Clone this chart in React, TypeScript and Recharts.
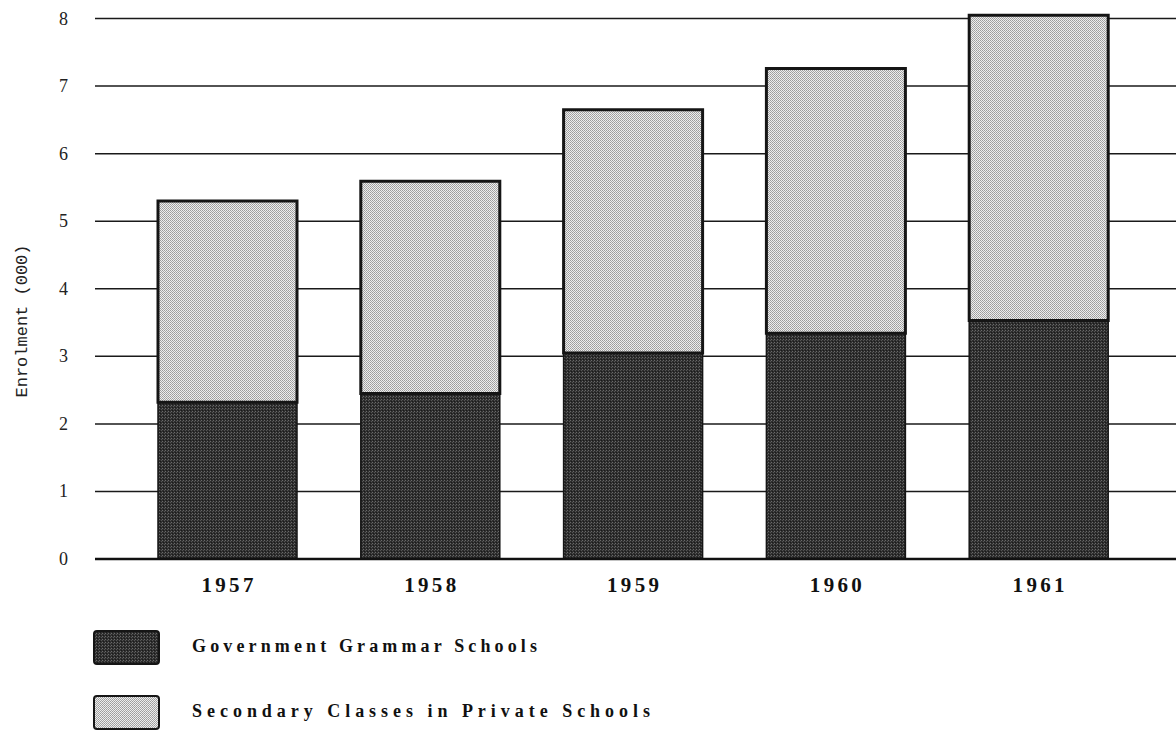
import React from "react";
import {
  Bar,
  BarChart,
  CartesianGrid,
  XAxis,
  YAxis,
} from "recharts";

const years = ["1957", "1958", "1959", "1960", "1961"];
const grammarSchools = [2.32, 2.45, 3.05, 3.34, 3.53];
const privateSchools = [2.98, 3.14, 3.6, 3.92, 4.52];
const yTicks = [0, 1, 2, 3, 4, 5, 6, 7, 8];

const SERIES = [
  { key: "grammar", name: "Government Grammar Schools", pattern: "darkDots", textWidth: 345 },
  { key: "private", name: "Secondary Classes in Private Schools", pattern: "lightDots", textWidth: 458 },
];

const data = years.map((year, i) => ({
  year,
  grammar: grammarSchools[i],
  private: privateSchools[i],
}));

function Patterns({ prefix = "" }: { prefix?: string }) {
  return (
    <defs>
      <pattern id={prefix + "darkDots"} width="3" height="3" patternUnits="userSpaceOnUse">
        <rect width="3" height="3" fill="#2e2e2e" />
        <rect x="0" y="0" width="1" height="1" fill="#6a6a6a" />
        <rect x="2" y="1" width="1" height="1" fill="#555" />
        <rect x="1" y="2" width="1" height="1" fill="#1a1a1a" />
      </pattern>
      <pattern id={prefix + "lightDots"} width="2" height="2" patternUnits="userSpaceOnUse">
        <rect width="2" height="2" fill="#eeeeee" />
        <rect x="0" y="0" width="1" height="1" fill="#9c9c9c" />
        <rect x="1" y="1" width="1" height="1" fill="#a8a8a8" />
      </pattern>
    </defs>
  );
}

// year labels are bold and widely spaced
const YearTick = ({ x, y, payload }: any) => (
  <text
    x={x}
    y={y + 15}
    textAnchor="middle"
    fill="#111"
    fontFamily="Liberation Serif"
    fontWeight={700}
    fontSize={21}
    textLength={52}
    lengthAdjust="spacing"
  >
    {payload.value}
  </text>
);

const ValueTick = ({ x, y, payload }: any) => (
  <text
    x={x}
    y={y}
    dy={6}
    textAnchor="end"
    fill="#222"
    fontFamily="Liberation Serif"
    fontSize={18}
  >
    {payload.value}
  </text>
);

export default function App() {
  return (
    <div
      style={{
        position: "absolute",
        left: 0,
        top: 0,
        width: 1176,
        height: 735,
        background: "#fff",
      }}
    >
      <BarChart
        width={1176}
        height={735}
        data={data}
        margin={{ top: 5, right: 0, bottom: 0, left: 0 }}
        barSize={139}
      >
        <Patterns />
        <CartesianGrid
          vertical={false}
          horizontalValues={yTicks}
          stroke="#1a1a1a"
          strokeWidth={1.5}
        />
        <XAxis
          dataKey="year"
          height={176}
          padding={{ left: 31, right: 36 }}
          axisLine={{ stroke: "#111", strokeWidth: 2.5 }}
          tickLine={false}
          tickSize={0}
          tickMargin={18}
          tick={<YearTick />}
        />
        <YAxis
          width={95}
          domain={[0, 8.2]}
          ticks={yTicks}
          axisLine={false}
          tickLine={false}
          tickSize={0}
          tickMargin={27}
          tick={<ValueTick />}
          label={{
            content: () => (
              <text
                x={27}
                y={321}
                transform="rotate(-90 27 321)"
                textAnchor="middle"
                fill="#222"
                fontFamily="Liberation Mono"
                fontSize={17}
              >
                Enrolment (000)
              </text>
            ),
          }}
        />
        {SERIES.map((s) => (
          <Bar
            key={s.key}
            dataKey={s.key}
            name={s.name}
            stackId="a"
            fill={`url(#${s.pattern})`}
            stroke="#151515"
            strokeWidth={s.key === "private" ? 3 : 1.5}
            isAnimationActive={false}
          />
        ))}
      </BarChart>

      <svg
        width={700}
        height={135}
        style={{ position: "absolute", left: 0, top: 600 }}
      >
        <Patterns prefix="lg" />
        {SERIES.map((s, i) => (
          <g key={s.key} transform={`translate(0 ${i * 65})`}>
            <rect
              x={94}
              y={31}
              width={65}
              height={33}
              rx={3}
              fill={`url(#lg${s.pattern})`}
              stroke="#151515"
              strokeWidth={2}
            />
            <text
              x={192}
              y={52}
              fill="#111"
              fontFamily="Liberation Serif"
              fontWeight={700}
              fontSize={18}
              textLength={s.textWidth}
              lengthAdjust="spacing"
            >
              {s.name}
            </text>
          </g>
        ))}
      </svg>
    </div>
  );
}
